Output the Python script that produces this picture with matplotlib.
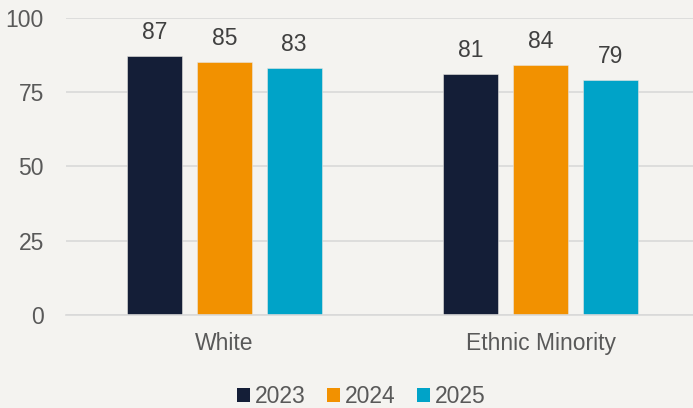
import matplotlib
matplotlib.use("Agg")
import matplotlib.pyplot as plt
from matplotlib.patches import Patch
import numpy as np

categories = ["White", "Ethnic Minority"]
series_names = ["2023", "2024", "2025"]
values_2023 = [87, 81]
values_2024 = [85, 84]
values_2025 = [83, 79]
yticks = [0, 25, 50, 75, 100]

colors = ["#141E37", "#F29100", "#00A3C8"]
bg = "#F4F3F0"
txt = "#595959"

plt.rcParams['font.family'] = ['Liberation Sans', 'DejaVu Sans']

fig = plt.figure(figsize=(6.93, 4.08), dpi=100, facecolor=bg)
ax = fig.add_axes([66/693, 1-315/408, 1-66/693, (315-17.7)/408])
ax.set_facecolor(bg)

x = np.arange(len(categories))
step = 70/316.7
width = 55/316.7
all_vals = [values_2023, values_2024, values_2025]
for i, (name, vals) in enumerate(zip(series_names, all_vals)):
    pos = x + (i-1)*step
    ax.bar(pos, vals, width=width, color=colors[i], zorder=3,
           edgecolor="#e8e6e2", linewidth=0.4)
    for p, v in zip(pos, vals):
        ax.annotate(f"{v}", (p, v), xytext=(0, 9), textcoords="offset points",
                    ha="center", va="bottom", fontsize=16.5, color="#404040")

ax.set_ylim(0, 100)
ax.set_xlim(-0.5, 1 + (693-540.7)/316.7)
ax.set_yticks(yticks)
ax.set_yticklabels([str(t) for t in yticks], fontsize=16.5, color=txt)
ax.set_xticks(x)
ax.set_xticklabels(categories, fontsize=16.5, color=txt)
ax.tick_params(axis='y', length=0, pad=16)
ax.tick_params(axis='x', length=0, pad=12)
ax.grid(axis='y', color="#D9D9D9", linewidth=1.2, zorder=0)
ax.set_axisbelow(True)
for s in ["top", "right", "left"]:
    ax.spines[s].set_visible(False)
ax.spines["bottom"].set_color("#D9D9D9")
ax.spines["bottom"].set_linewidth(1.2)
ax.spines["bottom"].set_zorder(4)

handles = [Patch(facecolor=c, edgecolor='none') for c in colors]
leg = fig.legend(handles, series_names, loc="center", ncol=3,
                 bbox_to_anchor=(361.5/693, 1-396.5/408), frameon=False,
                 fontsize=16.5, handlelength=0.57, handleheight=0.57,
                 handletextpad=0.2, columnspacing=0.95, borderpad=0, borderaxespad=0)
for t in leg.get_texts():
    t.set_color(txt)

fig.savefig("out.png", dpi=100, facecolor=bg)
